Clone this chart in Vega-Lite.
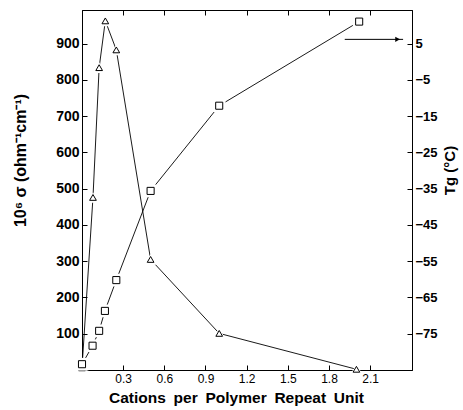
{
  "$schema": "https://vega.github.io/schema/vega-lite/v6.json",
  "autosize": "none",
  "width": 330,
  "height": 360,
  "padding": {"left": 82, "top": 10, "right": 51, "bottom": 40},
  "background": "white",
  "config": {
    "view": {"stroke": "black", "strokeWidth": 1},
    "font": "Liberation Sans",
    "axis": {"grid": false, "domainColor": "black", "tickColor": "black", "labelColor": "black", "titleColor": "black", "domainWidth": 1, "tickWidth": 1}
  },
  "datasets": {
    "tri": [
      {"x": 0, "sigma": 6},
      {"x": 0.08, "sigma": 476},
      {"x": 0.125, "sigma": 834},
      {"x": 0.17, "sigma": 963},
      {"x": 0.25, "sigma": 883},
      {"x": 0.5, "sigma": 305},
      {"x": 1.0, "sigma": 101},
      {"x": 2.0, "sigma": 2}
    ],
    "sq": [
      {"x": 0, "tg": -83.4},
      {"x": 0.077, "tg": -78.3},
      {"x": 0.125, "tg": -74.2},
      {"x": 0.167, "tg": -68.7},
      {"x": 0.25, "tg": -60.2},
      {"x": 0.5, "tg": -35.6},
      {"x": 1.0, "tg": -12.1},
      {"x": 2.02, "tg": 11.1}
    ],
    "arrow": [
      {"x": 1.915, "x2": 2.34, "xh": 2.30, "tg": 6.2}
    ]
  },
  "layer": [
    {
      "data": {"name": "tri"},
      "encoding": {
        "x": {
          "field": "x", "type": "quantitative",
          "scale": {"domain": [0, 2.405], "nice": false, "zero": false},
          "axis": {
            "orient": "bottom", "values": [0.3, 0.6, 0.9, 1.2, 1.5, 1.8, 2.1],
            "format": ".1f", "tickSize": -5, "labelPadding": 8,
            "labelFontSize": 12, "labelFont": "Liberation Sans",
            "title": "Cations\u2002per\u2002Polymer\u2002Repeat\u2002Unit", "titleFontSize": 15.5, "titleFontWeight": "bold",
            "titleX": 154, "titleY": 32, "titleBaseline": "alphabetic", "titleAlign": "center"
          }
        },
        "y": {
          "field": "sigma", "type": "quantitative",
          "scale": {"domain": [0, 993], "nice": false, "zero": false},
          "axis": {
            "orient": "left", "values": [100, 200, 300, 400, 500, 600, 700, 800, 900],
            "tickSize": -5, "labelPadding": 8, "labelFontSize": 14, "labelFontWeight": "bold",
            "title": "10⁶ σ (ohm⁻¹cm⁻¹)", "titleFontSize": 16, "titleFontWeight": "bold",
            "titleX": -62, "titleY": 150, "titleBaseline": "middle", "titleAlign": "center", "titleAngle": -90
          }
        }
      },
      "layer": [
        {"mark": {"type": "line", "color": "black", "strokeWidth": 0.9}},
        {"mark": {"type": "point", "shape": "triangle-up", "filled": true, "color": "white", "opacity": 1, "size": 150}},
        {"mark": {"type": "point", "shape": "triangle-up", "filled": false, "color": "black", "opacity": 1, "strokeWidth": 1, "size": 45}}
      ]
    },
    {
      "encoding": {
        "x": {
          "field": "x", "type": "quantitative",
          "scale": {"domain": [0, 2.405], "nice": false, "zero": false},
          "axis": {
            "orient": "top", "values": [0.3, 0.6, 0.9, 1.2, 1.5, 1.8, 2.1],
            "tickSize": -5, "labels": false, "title": null
          }
        },
        "y": {
          "field": "tg", "type": "quantitative",
          "scale": {"domain": [-85, 14.3], "nice": false, "zero": false},
          "axis": {
            "orient": "right", "values": [-75, -65, -55, -45, -35, -25, -15, -5, 5],
            "tickSize": -5, "labelPadding": 8, "labelFontSize": 13, "labelFontWeight": "bold",
            "title": "Tg (°C)", "titleFontSize": 15, "titleFontWeight": "bold",
            "titleX": 37, "titleY": 160, "titleBaseline": "middle", "titleAlign": "center", "titleAngle": -90
          }
        }
      },
      "layer": [
        {"data": {"name": "sq"}, "mark": {"type": "line", "color": "black", "strokeWidth": 0.9}},
        {"data": {"name": "sq"}, "mark": {"type": "point", "shape": "square", "filled": true, "color": "white", "opacity": 1, "size": 160}},
        {"data": {"name": "sq"}, "mark": {"type": "point", "shape": "square", "filled": false, "color": "black", "opacity": 1, "strokeWidth": 1, "size": 50}},
        {
          "data": {"name": "arrow"},
          "mark": {"type": "rule", "color": "black", "strokeWidth": 1},
          "encoding": {"x2": {"field": "x2"}}
        },
        {
          "data": {"name": "arrow"},
          "mark": {"type": "point", "shape": "triangle-right", "filled": true, "color": "black", "opacity": 1, "size": 30},
          "encoding": {"x": {"field": "xh", "type": "quantitative"}}
        }
      ]
    }
  ],
  "resolve": {"scale": {"y": "independent"}, "axis": {"x": "independent"}}
}
